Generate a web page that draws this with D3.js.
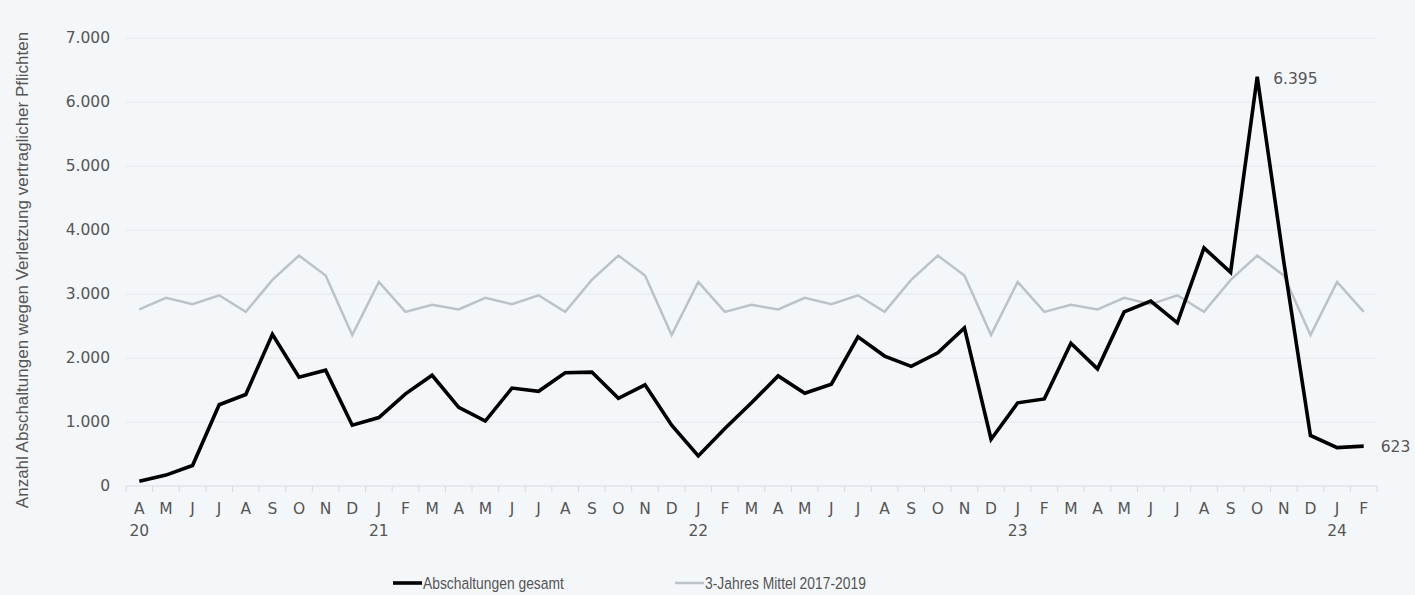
<!DOCTYPE html>
<html><head><meta charset="utf-8">
<script src="https://cdn.jsdelivr.net/npm/d3@7"></script>
<style>
html,body{margin:0;padding:0;background:#f4f7fa;}
svg{display:block;}
</style></head>
<body>
<script>
const months = ["A","M","J","J","A","S","O","N","D",
  "J","F","M","A","M","J","J","A","S","O","N","D",
  "J","F","M","A","M","J","J","A","S","O","N","D",
  "J","F","M","A","M","J","J","A","S","O","N","D",
  "J","F"];
const yearLabels = [{i:0,t:"20"},{i:9,t:"21"},{i:21,t:"22"},{i:33,t:"23"},{i:45,t:"24"}];
const total = [75,170,320,1270,1430,2370,1700,1810,950,
  1070,1440,1730,1230,1015,1530,1480,1770,1780,1370,1580,950,
  470,900,1300,1720,1450,1590,2330,2030,1870,2080,2470,730,
  1300,1360,2230,1830,2720,2890,2550,3720,3340,6395,3500,790,
  600,623];
const avg = [2760,2940,2840,2980,2720,3220,3600,3290,2360,
  3190,2720,2830,2760,2940,2840,2980,2720,3220,3600,3290,2360,
  3190,2720,2830,2760,2940,2840,2980,2720,3220,3600,3290,2360,
  3190,2720,2830,2760,2940,2840,2980,2720,3220,3600,3290,2360,
  3190,2720];
const yTicks = [0,1000,2000,3000,4000,5000,6000,7000];
const seriesNames = ["Abschaltungen gesamt","3-Jahres Mittel 2017-2019"];

const W=1415,H=595;
const svg=d3.select("body").append("svg").attr("width",W).attr("height",H);
svg.append("rect").attr("width",W).attr("height",H).attr("fill","#f4f7fa");
const L=126,R=1377,T=38,B=486;
const x=d3.scaleBand().domain(d3.range(months.length)).range([L,R]);
const y=d3.scaleLinear().domain([0,7000]).range([B,T]);
const cx=i=>x(i)+x.bandwidth()/2;
const fmt=v=>d3.format(",")(v).replace(/,/g,".");
const font="'DejaVu Sans', Verdana, sans-serif";
const tfs=15.5, tcol="#555";

// grid
svg.append("g").selectAll("line").data(yTicks.filter(d=>d>0)).join("line")
  .attr("x1",L).attr("x2",R).attr("y1",d=>y(d)).attr("y2",d=>y(d))
  .attr("stroke","#e2e5ea").attr("stroke-width",1);

// y axis labels
const ya=svg.append("g").attr("transform",`translate(${L},0)`)
  .call(d3.axisLeft(y).tickValues(yTicks).tickFormat(fmt).tickSize(0).tickPadding(16));
ya.select(".domain").remove();
ya.selectAll("text").attr("font-family",font).attr("font-size",tfs).attr("fill",tcol);

// x axis
svg.append("line").attr("x1",L).attr("x2",R).attr("y1",B).attr("y2",B).attr("stroke","#d6d9de");
svg.append("g").selectAll("line").data(d3.range(months.length+1)).join("line")
  .attr("x1",i=>L+i*x.bandwidth()).attr("x2",i=>L+i*x.bandwidth())
  .attr("y1",B).attr("y2",B+6).attr("stroke","#d6d9de");
svg.append("g").selectAll("text").data(months).join("text")
  .attr("x",(d,i)=>cx(i)).attr("y",514).attr("text-anchor","middle")
  .attr("font-family",font).attr("font-size",tfs).attr("fill",tcol).text(d=>d);
svg.append("g").selectAll("text").data(yearLabels).join("text")
  .attr("x",d=>cx(d.i)).attr("y",536).attr("text-anchor","middle")
  .attr("font-family",font).attr("font-size",tfs).attr("fill",tcol).text(d=>d.t);

// y title
svg.append("text").attr("transform","translate(28,270) rotate(-90)")
  .attr("text-anchor","middle").attr("font-family","'Liberation Sans', Arial, sans-serif").attr("font-size",17).attr("fill","#555")
  .text("Anzahl Abschaltungen wegen Verletzung vertraglicher Pflichten");

// lines
const line=d3.line().x((d,i)=>cx(i)).y(d=>y(d));
svg.append("path").datum(avg).attr("d",line).attr("fill","none")
  .attr("stroke","#bdc1ca").attr("stroke-width",2.5).attr("stroke-linejoin","miter");
svg.append("path").datum(total).attr("d",line).attr("fill","none")
  .attr("stroke","#000").attr("stroke-width",3.6).attr("stroke-linejoin","miter");

// labels
const pk=d3.maxIndex(total);
svg.append("text").attr("x",cx(pk)+16).attr("y",y(total[pk])+7)
  .attr("font-family",font).attr("font-size",tfs).attr("fill",tcol).text(fmt(total[pk]));
const last=total.length-1;
svg.append("text").attr("x",cx(last)+17).attr("y",y(total[last])+6)
  .attr("font-family",font).attr("font-size",tfs).attr("fill",tcol).text(fmt(total[last]));

// legend
const lg=[{n:seriesNames[0],c:"#000",w:3.6,x:393},{n:seriesNames[1],c:"#bdc1ca",w:2.5,x:675}];
const lgG=svg.append("g").selectAll("g").data(lg).join("g").attr("transform",d=>`translate(${d.x},583)`);
lgG.append("line").attr("x1",0).attr("x2",29).attr("stroke",d=>d.c).attr("stroke-width",d=>d.w);
lgG.append("text").attr("transform","translate(30,6) scale(0.84,1)")
  .attr("font-family","'Liberation Sans', Arial, sans-serif")
  .attr("font-size",16.5).attr("fill","#555").text(d=>d.n);
</script>
</body></html>
